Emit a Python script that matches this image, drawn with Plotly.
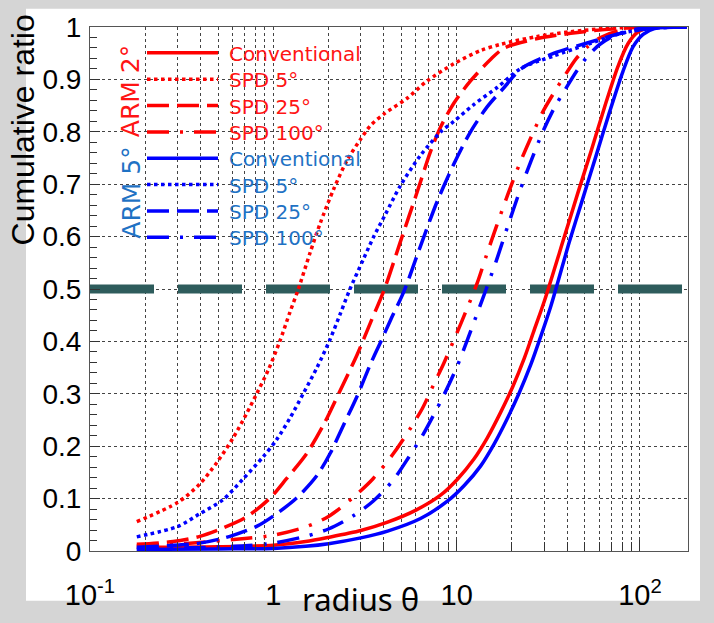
import plotly.graph_objects as go

# ---------------- data ----------------
red_conv_x = [0.18, 0.5, 1.0, 1.5, 2.0, 3.0, 4.2, 6.0, 8.2, 10.1, 12.4, 14.7, 17.4, 20.2, 23.4, 26.5, 30.1, 38.7, 45.8, 54.2, 64.2, 75.9, 86, 97, 115, 180]
red_conv_y = [0.007, 0.008, 0.011, 0.018, 0.026, 0.039, 0.055, 0.078, 0.107, 0.137, 0.175, 0.216, 0.265, 0.313, 0.368, 0.422, 0.477, 0.600, 0.683, 0.764, 0.848, 0.925, 0.968, 0.990, 0.999, 1.0]

red_spd5_x = [0.18, 0.302, 0.397, 0.49, 0.604, 0.714, 0.811, 0.94, 1.087, 1.23, 1.37, 1.59, 1.8, 2.13, 2.52, 2.98, 3.39, 4.05, 5.37, 6.9, 9.67, 13.5, 17.4, 27.6, 41.9, 64, 110, 180]
red_spd5_y = [0.056, 0.093, 0.128, 0.168, 0.216, 0.262, 0.300, 0.346, 0.401, 0.455, 0.500, 0.570, 0.625, 0.690, 0.745, 0.785, 0.812, 0.835, 0.864, 0.897, 0.930, 0.955, 0.967, 0.982, 0.991, 0.997, 1.0, 1.0]

red_spd25_x = [0.18, 0.284, 0.397, 0.532, 0.714, 0.96, 1.18, 1.52, 1.88, 2.32, 2.86, 3.38, 4.04, 4.93, 6.09, 7.2, 8.2, 9.67, 11.9, 15.4, 18.2, 27.6, 41.9, 64, 110, 180]
red_spd25_y = [0.013, 0.018, 0.028, 0.044, 0.065, 0.101, 0.138, 0.186, 0.241, 0.307, 0.374, 0.435, 0.50, 0.59, 0.685, 0.762, 0.81, 0.855, 0.897, 0.939, 0.96, 0.978, 0.988, 0.995, 1.0, 1.0]

red_spd100_x = [0.18, 0.35, 0.7, 1.0, 1.5, 2.0, 2.7, 3.5, 4.5, 5.5, 6.5, 7.5, 8.5, 10, 11.5, 13, 14.5, 16.5, 19, 22, 25.5, 29.5, 34, 39, 45, 52, 61, 75, 100, 180]
red_spd100_y = [0.010, 0.015, 0.024, 0.030, 0.046, 0.066, 0.101, 0.138, 0.185, 0.230, 0.272, 0.318, 0.358, 0.415, 0.466, 0.513, 0.563, 0.620, 0.680, 0.738, 0.790, 0.838, 0.875, 0.908, 0.940, 0.963, 0.980, 0.992, 0.999, 1.0]

blue_conv_x = [0.18, 0.5, 1.0, 1.5, 2.0, 3.0, 4.2, 6.35, 8.9, 11, 13.5, 16, 18.9, 21.9, 25.4, 28.8, 32.7, 41.2, 48.7, 57.7, 68.3, 80.7, 91.6, 104, 120, 180]
blue_conv_y = [0.003, 0.004, 0.005, 0.009, 0.014, 0.025, 0.038, 0.062, 0.095, 0.125, 0.162, 0.204, 0.253, 0.301, 0.356, 0.410, 0.468, 0.590, 0.672, 0.755, 0.838, 0.915, 0.962, 0.986, 0.997, 1.0]

blue_spd5_x = [0.18, 0.302, 0.397, 0.532, 0.686, 0.881, 1.04, 1.23, 1.46, 1.73, 2.04, 2.32, 2.62, 3.11, 3.53, 4.08, 4.93, 6.35, 8.2, 9.67, 12.4, 16.7, 22.4, 34, 52, 79, 120, 180]
blue_spd5_y = [0.027, 0.047, 0.071, 0.098, 0.138, 0.180, 0.212, 0.253, 0.301, 0.350, 0.404, 0.453, 0.500, 0.558, 0.600, 0.642, 0.697, 0.755, 0.800, 0.820, 0.852, 0.885, 0.921, 0.945, 0.967, 0.988, 0.998, 1.0]

blue_spd25_x = [0.18, 0.397, 0.58, 0.811, 1.04, 1.34, 1.73, 2.04, 2.42, 2.86, 3.38, 3.84, 4.35, 5.18, 6.35, 7.83, 9.67, 11.9, 14.7, 18.2, 22.4, 34, 52, 79, 120, 180]
blue_spd25_y = [0.007, 0.015, 0.028, 0.047, 0.071, 0.101, 0.144, 0.186, 0.241, 0.295, 0.356, 0.398, 0.440, 0.497, 0.582, 0.667, 0.739, 0.800, 0.848, 0.885, 0.920, 0.950, 0.970, 0.988, 0.998, 1.0]

blue_spd100_x = [0.18, 0.35, 0.7, 1.0, 1.5, 2.0, 2.7, 3.5, 4.5, 5.5, 6.5, 7.5, 8.5, 10, 11.5, 13, 14.5, 16.5, 19, 22, 25.5, 29.5, 34, 39, 45, 52, 61, 75, 100, 180]
blue_spd100_y = [0.004, 0.006, 0.010, 0.015, 0.028, 0.042, 0.066, 0.095, 0.135, 0.180, 0.220, 0.260, 0.297, 0.350, 0.405, 0.455, 0.500, 0.555, 0.620, 0.685, 0.745, 0.800, 0.845, 0.880, 0.915, 0.945, 0.968, 0.986, 0.997, 1.0]

half_line_x = [0.1, 183]
half_line_y = [0.5, 0.5]

x_major_vals = [0.1, 1, 10, 100]
x_major_text = ["10<sup>-1</sup>", "1", "10", "10<sup>2</sup>"]
x_minor_vals = [m * d for d in (0.1, 1, 10, 100) for m in range(2, 10) if m * d < 184]
y_major_vals = [0, 0.1, 0.2, 0.3, 0.4, 0.5, 0.6, 0.7, 0.8, 0.9, 1]
y_major_text = ["0", "0.1", "0.2", "0.3", "0.4", "0.5", "0.6", "0.7", "0.8", "0.9", "1"]
y_minor_vals = [round(i * 0.02, 2) for i in range(51) if i % 5 != 0]

legend_names = ["Conventional", "SPD 5°", "SPD 25°", "SPD 100°"]
group_titles = ["ARM 2°", "ARM 5°"]

# ---------------- styles ----------------
RED = "#ff0000"
BLUE = "#0000ff"
RED_TXT = "#ff1414"
BLUE_TXT = "#1f72c4"
DASHES = ["solid", "3.5px,3.5px", "22px,8px", "22px,11px,3px,11px"]
LW = 3.5

# plot area in pixels
L, R, T, B = 90, 688, 19, 566
W, H = 714, 623


def px_x(p):
    return (p - L) / (R - L)


def px_y(p):
    return (B - p) / (B - T)


fig = go.Figure()

fig.add_trace(go.Scatter(x=half_line_x, y=half_line_y, mode="lines",
                         line=dict(color="#2e5c5c", width=9, dash="64px,24px"),
                         showlegend=False, hoverinfo="skip"))

series = [
    (red_conv_x, red_conv_y, RED, DASHES[0]),
    (red_spd5_x, red_spd5_y, RED, DASHES[1]),
    (red_spd25_x, red_spd25_y, RED, DASHES[2]),
    (red_spd100_x, red_spd100_y, RED, DASHES[3]),
    (blue_conv_x, blue_conv_y, BLUE, DASHES[0]),
    (blue_spd5_x, blue_spd5_y, BLUE, DASHES[1]),
    (blue_spd25_x, blue_spd25_y, BLUE, DASHES[2]),
    (blue_spd100_x, blue_spd100_y, BLUE, DASHES[3]),
]
for xs, ys, col, dash in series:
    fig.add_trace(go.Scatter(x=xs, y=ys, mode="lines",
                             line=dict(color=col, width=LW, dash=dash, shape="spline", smoothing=0.8),
                             showlegend=False, hoverinfo="skip"))

shapes = []
# white sheet behind the chart
shapes.append(dict(type="rect", xref="paper", yref="paper", layer="below",
                   x0=px_x(26), x1=px_x(700), y0=px_y(618), y1=px_y(0),
                   fillcolor="white", line=dict(width=0)))

annotations = []
row_y = [46, 73.5, 101, 128.5, 156, 183.5, 211, 238.5]
for i in range(8):
    col = RED if i < 4 else BLUE
    tcol = RED_TXT if i < 4 else BLUE_TXT
    shapes.append(dict(type="line", xref="paper", yref="paper",
                       x0=px_x(147), x1=px_x(218), y0=px_y(row_y[i]), y1=px_y(row_y[i]),
                       line=dict(color=col, width=LW, dash=DASHES[i % 4])))
    annotations.append(dict(xref="paper", yref="paper", x=px_x(227), y=px_y(row_y[i] + 1),
                            xanchor="left", yanchor="middle", showarrow=False,
                            text=legend_names[i % 4],
                            font=dict(family="DejaVu Sans", size=20, color=tcol)))

annotations.append(dict(xref="paper", yref="paper", x=px_x(130), y=px_y(86),
                        xanchor="center", yanchor="middle", showarrow=False, textangle=-90,
                        text=group_titles[0], font=dict(family="DejaVu Sans", size=25, color=RED_TXT)))
annotations.append(dict(xref="paper", yref="paper", x=px_x(132), y=px_y(192),
                        xanchor="center", yanchor="middle", showarrow=False, textangle=-90,
                        text=group_titles[1], font=dict(family="DejaVu Sans", size=25, color=BLUE_TXT)))

# axis titles
annotations.append(dict(xref="paper", yref="paper", x=px_x(23), y=px_y(127),
                        xanchor="center", yanchor="middle", showarrow=False, textangle=-90,
                        text="Cumulative ratio",
                        font=dict(family="Liberation Sans, Arial", size=32, color="black")))
annotations.append(dict(xref="paper", yref="paper", x=px_x(360), y=px_y(592),
                        xanchor="center", yanchor="top", showarrow=False,
                        text="radius θ",
                        font=dict(family="Noto Sans", size=31, color="black")))

GRID = "#444444"
fig.update_layout(
    width=W, height=H,
    margin=dict(l=L, r=W - R, t=T, b=H - B, pad=0),
    paper_bgcolor="#d5d5d5",
    plot_bgcolor="white",
    shapes=shapes,
    annotations=annotations,
    xaxis=dict(type="log", range=[-1, 2.262], tickmode="array",
               tickvals=x_major_vals, ticktext=x_major_text,
               ticks="inside", ticklen=11, tickwidth=1, tickcolor="#333",
               tickfont=dict(family="Liberation Sans, Arial", size=29, color="black"),
               ticklabelstandoff=18,
               showline=True, linecolor="#555", linewidth=1, mirror=True,
               showgrid=True, gridcolor=GRID, griddash="dot", gridwidth=1,
               zeroline=False,
               minor=dict(tickmode="array", tickvals=x_minor_vals, ticks="inside", ticklen=9,
                          tickcolor="#333", showgrid=True, gridcolor=GRID, griddash="dot", gridwidth=1)),
    yaxis=dict(range=[0, 1], tickmode="array",
               tickvals=y_major_vals, ticktext=y_major_text,
               ticks="inside", ticklen=10, tickwidth=1, tickcolor="#333",
               tickfont=dict(family="Liberation Sans, Arial", size=28, color="black"),
               ticklabelstandoff=2,
               showline=True, linecolor="#555", linewidth=1, mirror=True,
               showgrid=True, gridcolor=GRID, griddash="dot", gridwidth=1,
               zeroline=False,
               minor=dict(tickmode="array", tickvals=y_minor_vals, ticks="inside", ticklen=7,
                          tickcolor="#333", showgrid=False)),
)

fig.write_html("out.html")
